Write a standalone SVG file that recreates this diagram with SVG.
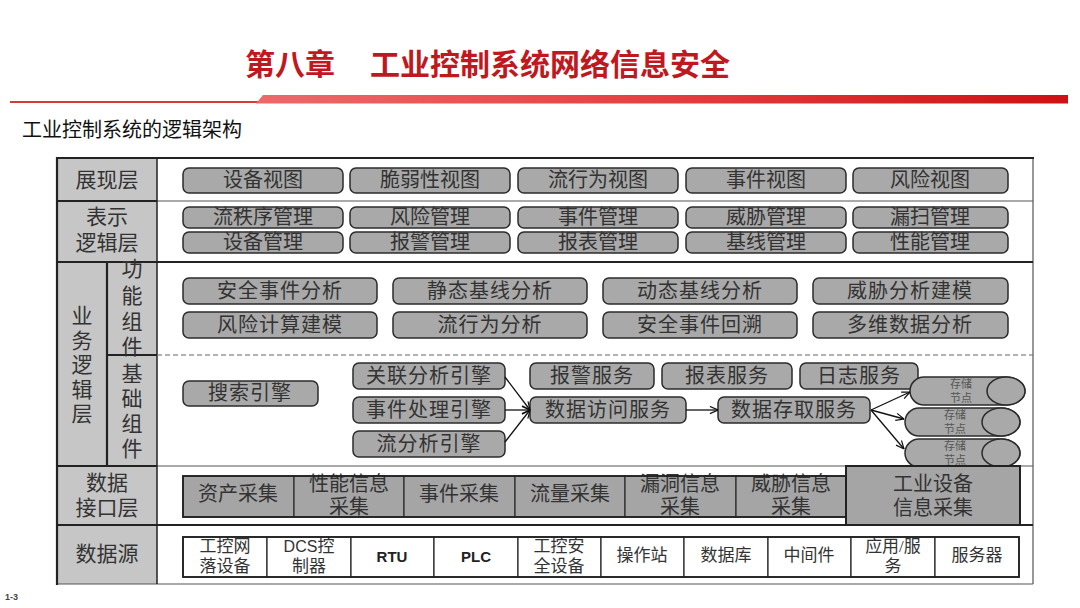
<svg xmlns="http://www.w3.org/2000/svg" width="1080" height="608" viewBox="0 0 1080 608">
<defs>
<linearGradient id="redbar" x1="0" y1="0" x2="1" y2="0">
<stop offset="0" stop-color="#ec6a6a"/>
<stop offset="0.5" stop-color="#e24040"/>
<stop offset="1" stop-color="#cc1212"/>
</linearGradient>
<marker id="arr" viewBox="0 0 10 10" refX="10" refY="5" markerWidth="9" markerHeight="9" markerUnits="userSpaceOnUse" orient="auto">
<path d="M1,1 L10,5 L1,9" fill="none" stroke="#111" stroke-width="1.3"/>
</marker>
</defs>
<style>
.lbl{fill:#c6c6c6;stroke:none}
.box{fill:#a9a9a9;stroke:#2b2b2b;stroke-width:1.5}
.cell{fill:#a5a5a5;stroke:#2b2b2b;stroke-width:1.2}
.src{fill:#ffffff;stroke:#222;stroke-width:1.2}
.t{font-family:"Liberation Serif","Noto Sans CJK SC",serif;font-size:20px;fill:#333;text-anchor:middle;dominant-baseline:central}
.tl{font-family:"Liberation Serif","Noto Sans CJK SC",serif;font-size:21px;fill:#333;text-anchor:middle;dominant-baseline:central}
.ts{font-family:"Liberation Serif","Noto Sans CJK SC",serif;font-size:17px;fill:#333;text-anchor:middle;dominant-baseline:central}
.tb{font-family:"Liberation Sans","Noto Sans CJK SC",sans-serif;font-size:15px;font-weight:bold;fill:#222;text-anchor:middle;dominant-baseline:central}
.tn{font-family:"Liberation Serif","Noto Sans CJK SC",serif;font-size:11px;fill:#555;text-anchor:middle;dominant-baseline:central}
.thick{stroke:#222;stroke-width:2.2}
.thin{stroke:#555;stroke-width:1.2}
.conn{stroke:#111;stroke-width:1.3;fill:none}
</style>

<!-- header -->
<g id="header">
<text x="245" y="62" font-family="Noto Sans CJK SC, sans-serif" font-size="30" font-weight="bold" fill="#c0181e" dominant-baseline="central">第八章</text>
<text x="370" y="62" font-family="Noto Sans CJK SC, sans-serif" font-size="30" font-weight="bold" fill="#c0181e" dominant-baseline="central">工业控制系统网络信息安全</text>
<line x1="10" y1="102" x2="260" y2="102" stroke="#d83a3a" stroke-width="2"/>
<polygon points="256,103.5 263,95 1068,95 1068,103.5" fill="url(#redbar)"/>
<text x="22" y="128" font-family="Noto Sans CJK SC, sans-serif" font-size="20" fill="#111" dominant-baseline="central">工业控制系统的逻辑架构</text>
</g>

<!-- frame and layer labels -->
<g id="frame">
<rect x="57" y="158" width="976" height="426" fill="#fff"/>
<rect class="lbl" x="57" y="158" width="100" height="43"/>
<rect class="lbl" x="57" y="201" width="100" height="61"/>
<rect class="lbl" x="57" y="262" width="100" height="204"/>
<rect class="lbl" x="57" y="466" width="100" height="59"/>
<rect class="lbl" x="57" y="525" width="100" height="59"/>
<line class="thin" x1="1033" y1="158" x2="1033" y2="584"/>
<line class="thin" x1="57" y1="584" x2="1033" y2="584"/>
<line class="thin" x1="157" y1="201" x2="1033" y2="201"/>
<line class="thin" x1="157" y1="466" x2="1033" y2="466"/>
<line class="thick" x1="57" y1="466" x2="157" y2="466"/>
<line class="thick" x1="56" y1="158" x2="1034" y2="158"/>
<line class="thick" x1="57" y1="157" x2="57" y2="585"/>
<line class="thick" x1="57" y1="201" x2="157" y2="201"/>
<line class="thick" x1="57" y1="262" x2="1033" y2="262"/>
<line class="thick" x1="57" y1="525" x2="1033" y2="525"/>
<line class="thick" x1="107" y1="262" x2="107" y2="466"/>
<line class="thick" x1="107" y1="355" x2="157" y2="355"/>
<line stroke="#222" stroke-width="1.5" x1="157" y1="158" x2="157" y2="584"/>
<line x1="157" y1="355" x2="1033" y2="355" stroke="#666" stroke-width="1.2" stroke-dasharray="5,3"/>
</g>

<g id="label-presentation"><text class="tl" x="107" y="180">展现层</text></g>
<g id="label-logic"><text class="tl" x="107" y="217">表示</text><text class="tl" x="107" y="243">逻辑层</text></g>
<g id="label-business">
<text class="tl" x="82" y="316" font-size="22">业</text><text class="tl" x="82" y="341">务</text><text class="tl" x="82" y="365">逻</text><text class="tl" x="82" y="390">辑</text><text class="tl" x="82" y="414">层</text>
</g>
<g id="label-func">
<text class="tl" x="132" y="269">功</text><text class="tl" x="132" y="296">能</text><text class="tl" x="132" y="322">组</text><text class="tl" x="132" y="347">件</text>
</g>
<g id="label-base">
<text class="tl" x="132" y="374">基</text><text class="tl" x="132" y="399">础</text><text class="tl" x="132" y="424">组</text><text class="tl" x="132" y="449">件</text>
</g>
<g id="label-interface"><text class="tl" x="107" y="483">数据</text><text class="tl" x="107" y="508">接口层</text></g>
<g id="label-source"><text class="tl" x="107" y="554">数据源</text></g>

<!-- presentation layer -->
<g id="v1"><rect class="box" x="183" y="168" width="160" height="25" rx="6"/><text class="t" x="263" y="180">设备视图</text></g>
<g id="v2"><rect class="box" x="350" y="168" width="160" height="25" rx="6"/><text class="t" x="430" y="180">脆弱性视图</text></g>
<g id="v3"><rect class="box" x="518" y="168" width="160" height="25" rx="6"/><text class="t" x="598" y="180">流行为视图</text></g>
<g id="v4"><rect class="box" x="686" y="168" width="160" height="25" rx="6"/><text class="t" x="766" y="180">事件视图</text></g>
<g id="v5"><rect class="box" x="853" y="168" width="155" height="25" rx="6"/><text class="t" x="930" y="180">风险视图</text></g>

<!-- logic layer -->
<g id="m1"><rect class="box" x="183" y="207" width="160" height="21" rx="6"/><text class="t" x="263" y="217">流秩序管理</text></g>
<g id="m2"><rect class="box" x="350" y="207" width="160" height="21" rx="6"/><text class="t" x="430" y="217">风险管理</text></g>
<g id="m3"><rect class="box" x="518" y="207" width="160" height="21" rx="6"/><text class="t" x="598" y="217">事件管理</text></g>
<g id="m4"><rect class="box" x="686" y="207" width="160" height="21" rx="6"/><text class="t" x="766" y="217">威胁管理</text></g>
<g id="m5"><rect class="box" x="853" y="207" width="155" height="21" rx="6"/><text class="t" x="930" y="217">漏扫管理</text></g>
<g id="m6"><rect class="box" x="183" y="232" width="160" height="21" rx="6"/><text class="t" x="263" y="242">设备管理</text></g>
<g id="m7"><rect class="box" x="350" y="232" width="160" height="21" rx="6"/><text class="t" x="430" y="242">报警管理</text></g>
<g id="m8"><rect class="box" x="518" y="232" width="160" height="21" rx="6"/><text class="t" x="598" y="242">报表管理</text></g>
<g id="m9"><rect class="box" x="686" y="232" width="160" height="21" rx="6"/><text class="t" x="766" y="242">基线管理</text></g>
<g id="m10"><rect class="box" x="853" y="232" width="155" height="21" rx="6"/><text class="t" x="930" y="242">性能管理</text></g>

<!-- function components -->
<g id="f1"><rect class="box" x="183" y="278" width="194" height="26" rx="6"/><text class="t" x="280" y="291" letter-spacing="1">安全事件分析</text></g>
<g id="f2"><rect class="box" x="393" y="278" width="194" height="26" rx="6"/><text class="t" x="490" y="291" letter-spacing="1">静态基线分析</text></g>
<g id="f3"><rect class="box" x="603" y="278" width="194" height="26" rx="6"/><text class="t" x="700" y="291" letter-spacing="1">动态基线分析</text></g>
<g id="f4"><rect class="box" x="813" y="278" width="195" height="26" rx="6"/><text class="t" x="910" y="291" letter-spacing="1">威胁分析建模</text></g>
<g id="f5"><rect class="box" x="183" y="312" width="194" height="26" rx="6"/><text class="t" x="280" y="325" letter-spacing="1">风险计算建模</text></g>
<g id="f6"><rect class="box" x="393" y="312" width="194" height="26" rx="6"/><text class="t" x="490" y="325" letter-spacing="1">流行为分析</text></g>
<g id="f7"><rect class="box" x="603" y="312" width="194" height="26" rx="6"/><text class="t" x="700" y="325" letter-spacing="1">安全事件回溯</text></g>
<g id="f8"><rect class="box" x="813" y="312" width="195" height="26" rx="6"/><text class="t" x="910" y="325" letter-spacing="1">多维数据分析</text></g>

<!-- base components -->
<g id="search"><rect class="box" x="183" y="381" width="135" height="25" rx="6"/><text class="t" x="250" y="393" letter-spacing="1">搜索引擎</text></g>
<g id="corr"><rect class="box" x="353" y="363" width="152" height="26" rx="6"/><text class="t" x="429" y="376" letter-spacing="1">关联分析引擎</text></g>
<g id="evt"><rect class="box" x="353" y="397" width="152" height="26" rx="6"/><text class="t" x="429" y="410" letter-spacing="1">事件处理引擎</text></g>
<g id="flow"><rect class="box" x="353" y="431" width="152" height="26" rx="6"/><text class="t" x="429" y="444" letter-spacing="1">流分析引擎</text></g>
<g id="alarm"><rect class="box" x="530" y="363" width="124" height="26" rx="6"/><text class="t" x="592" y="376" letter-spacing="1">报警服务</text></g>
<g id="report"><rect class="box" x="662" y="363" width="130" height="26" rx="6"/><text class="t" x="727" y="376" letter-spacing="1">报表服务</text></g>
<g id="log"><rect class="box" x="800" y="363" width="118" height="26" rx="6"/><text class="t" x="859" y="376" letter-spacing="1">日志服务</text></g>
<g id="access"><rect class="box" x="530" y="397" width="156" height="26" rx="6"/><text class="t" x="608" y="410" letter-spacing="1">数据访问服务</text></g>
<g id="store"><rect class="box" x="718" y="397" width="152" height="26" rx="6"/><text class="t" x="794" y="410" letter-spacing="1">数据存取服务</text></g>

<!-- storage nodes -->
<g id="sn1">
<path class="box" d="M924,377 L1006,377 A19,14 0 0 1 1006,405 L924,405 A14,14 0 0 1 924,377 Z"/>
<ellipse class="box" cx="1006" cy="391" rx="19" ry="14"/>
<text class="tn" x="961" y="384">存储</text><text class="tn" x="961" y="398">节点</text>
</g>
<g id="sn2">
<path class="box" d="M919,408 L1001,408 A19,14 0 0 1 1001,436 L919,436 A14,14 0 0 1 919,408 Z"/>
<ellipse class="box" cx="1001" cy="422" rx="19" ry="14"/>
<text class="tn" x="955" y="415">存储</text><text class="tn" x="955" y="429">节点</text>
</g>
<g id="sn3">
<path class="box" d="M919,439 L1001,439 A19,14 0 0 1 1001,467 L919,467 A14,14 0 0 1 919,439 Z"/>
<ellipse class="box" cx="1001" cy="453" rx="19" ry="14"/>
<text class="tn" x="955" y="446">存储</text><text class="tn" x="955" y="460">节点</text>
</g>

<!-- connectors -->
<g id="connectors">
<line class="conn" x1="505" y1="377" x2="530" y2="410" marker-end="url(#arr)"/>
<line class="conn" x1="505" y1="410" x2="530" y2="410" marker-end="url(#arr)"/>
<line class="conn" x1="505" y1="442" x2="530" y2="410" marker-end="url(#arr)"/>
<line class="conn" x1="686" y1="410" x2="718" y2="410" marker-end="url(#arr)"/>
<line class="conn" x1="871" y1="410" x2="910" y2="392" marker-end="url(#arr)"/>
<line class="conn" x1="871" y1="410" x2="904" y2="419" marker-end="url(#arr)"/>
<line class="conn" x1="871" y1="410" x2="904" y2="449" marker-end="url(#arr)"/>
</g>

<!-- data interface layer -->
<g id="i1"><rect class="cell" x="183" y="476" width="111" height="41"/><text class="t" x="238" y="494">资产采集</text></g>
<g id="i2"><rect class="cell" x="294" y="476" width="110" height="41"/><text class="t" x="349" y="484">性能信息</text><text class="t" x="349" y="507">采集</text></g>
<g id="i3"><rect class="cell" x="404" y="476" width="111" height="41"/><text class="t" x="459" y="494">事件采集</text></g>
<g id="i4"><rect class="cell" x="515" y="476" width="110" height="41"/><text class="t" x="570" y="494">流量采集</text></g>
<g id="i5"><rect class="cell" x="625" y="476" width="111" height="41"/><text class="t" x="680" y="484">漏洞信息</text><text class="t" x="680" y="507">采集</text></g>
<g id="i6"><rect class="cell" x="736" y="476" width="110" height="41"/><text class="t" x="791" y="484">威胁信息</text><text class="t" x="791" y="507">采集</text></g>
<g id="i7"><rect x="846" y="466" width="174" height="59" fill="#a5a5a5" stroke="#222" stroke-width="2"/><text class="t" x="933" y="484">工业设备</text><text class="t" x="933" y="508">信息采集</text></g>
<rect x="183" y="476" width="663" height="41" fill="none" stroke="#222" stroke-width="1.8"/>

<!-- data source layer -->
<g id="s1"><rect class="src" x="183" y="537" width="84" height="40"/><text class="ts" x="225" y="546">工控网</text><text class="ts" x="225" y="566">落设备</text></g>
<g id="s2"><rect class="src" x="267" y="537" width="84" height="40"/><text class="ts" x="309" y="546"><tspan font-family="Liberation Sans, sans-serif" font-size="16">DCS</tspan>控</text><text class="ts" x="309" y="566">制器</text></g>
<g id="s3"><rect class="src" x="351" y="537" width="83" height="40"/><text class="tb" x="392" y="556">RTU</text></g>
<g id="s4"><rect class="src" x="434" y="537" width="84" height="40"/><text class="tb" x="476" y="556">PLC</text></g>
<g id="s5"><rect class="src" x="518" y="537" width="83" height="40"/><text class="ts" x="559" y="546">工控安</text><text class="ts" x="559" y="566">全设备</text></g>
<g id="s6"><rect class="src" x="601" y="537" width="83" height="40"/><text class="ts" x="642" y="555">操作站</text></g>
<g id="s7"><rect class="src" x="684" y="537" width="84" height="40"/><text class="ts" x="726" y="555">数据库</text></g>
<g id="s8"><rect class="src" x="768" y="537" width="83" height="40"/><text class="ts" x="809" y="555">中间件</text></g>
<g id="s9"><rect class="src" x="851" y="537" width="84" height="40"/><text class="ts" x="893" y="546">应用/服</text><text class="ts" x="893" y="566">务</text></g>
<g id="s10"><rect class="src" x="935" y="537" width="84" height="40"/><text class="ts" x="977" y="555">服务器</text></g>
<rect x="183" y="537" width="836" height="40" fill="none" stroke="#222" stroke-width="1.8"/>

<g id="footer"><text x="5" y="600" font-family="Liberation Sans, sans-serif" font-size="9" font-weight="bold" fill="#444">1-3</text></g>
</svg>
